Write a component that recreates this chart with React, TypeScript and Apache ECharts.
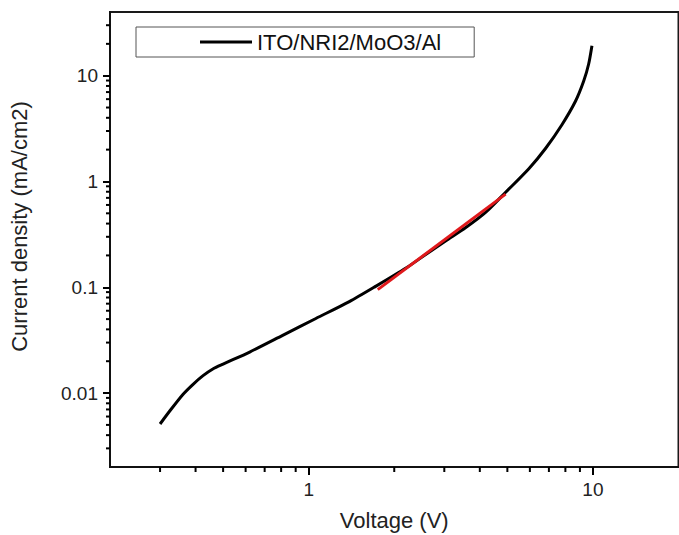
import React, { useEffect, useRef } from "react";
import * as echarts from "echarts";

const seriesName = "ITO/NRI2/MoO3/Al";
const voltage = [0.3, 0.325, 0.361, 0.392, 0.425, 0.46, 0.5, 0.62, 0.81, 1.06, 1.39, 1.72, 2.2, 2.58, 3.03, 3.57, 4.19, 4.93, 5.95, 6.81, 7.78, 8.68, 9.28, 9.66, 9.92];
const currentDensity = [0.0051, 0.0068, 0.0097, 0.0121, 0.0146, 0.0169, 0.0188, 0.0244, 0.0351, 0.0507, 0.0732, 0.102, 0.152, 0.204, 0.274, 0.367, 0.51, 0.79, 1.32, 2.05, 3.44, 5.73, 8.9, 12.9, 19.2];
const fitVoltage = [1.75, 4.93];
const fitCurrent = [0.095, 0.76];
const xRange = [0.2, 20];
const yRange = [0.002, 40];
const xMajorTicks = [1, 10];
const xMinorTicks = [0.3, 0.4, 0.5, 0.6, 0.7, 0.8, 0.9, 2, 3, 4, 5, 6, 7, 8, 9];
const yMajorTicks = [0.01, 0.1, 1, 10];
const yMinorTicks = [0.003, 0.004, 0.005, 0.006, 0.007, 0.008, 0.009, 0.02, 0.03, 0.04, 0.05, 0.06, 0.07, 0.08, 0.09, 0.2, 0.3, 0.4, 0.5, 0.6, 0.7, 0.8, 0.9, 2, 3, 4, 5, 6, 7, 8, 9, 20, 30];

const FONT = "'Liberation Sans', Arial, sans-serif";
const INK = "#000";

// custom series drawing minor tick marks through the axes' own scales
function minorTickSeries(values: number[], dir: "x" | "y", len: number, width: number) {
  return {
    type: "custom",
    coordinateSystem: "cartesian2d",
    clip: false,
    silent: true,
    z: 10,
    data: values.map((v) => (dir === "x" ? [v, yRange[0]] : [xRange[0], v])),
    renderItem: (_params: any, api: any) => {
      const p = api.coord([api.value(0), api.value(1)]);
      if (dir === "x") {
        return { type: "line", shape: { x1: p[0], y1: p[1], x2: p[0], y2: p[1] + len }, style: { stroke: INK, lineWidth: width } };
      }
      return { type: "line", shape: { x1: p[0], y1: p[1], x2: p[0] - len, y2: p[1] }, style: { stroke: INK, lineWidth: width } };
    },
  };
}

export default function App() {
  const ref = useRef<HTMLDivElement>(null);
  useEffect(() => {
    document.body.style.margin = "0";
    const chart = echarts.init(ref.current!, null, { renderer: "svg" });
    chart.setOption({
      animation: false,
      backgroundColor: "#ffffff",
      textStyle: { fontFamily: FONT },
      grid: {
        left: 110,
        top: 12,
        right: 0.5,
        bottom: 68,
        outerBoundsMode: "none",
        show: true,
        borderColor: "#1a1a1a",
        borderWidth: 2,
        backgroundColor: "transparent",
      },
      legend: {
        data: [seriesName],
        left: 136,
        top: 27,
        orient: "horizontal",
        padding: [4, 33, 4, 64],
        borderColor: "#555",
        borderWidth: 1,
        borderRadius: 0,
        icon: "rect",
        itemWidth: 52,
        itemHeight: 3,
        itemGap: 5,
        itemStyle: { color: "#000" },
        textStyle: { fontFamily: FONT, fontSize: 22, color: "#111", padding: [3, 0, 0, 0] },
      },
      xAxis: {
        type: "log",
        logBase: 10,
        position: "bottom",
        min: xRange[0],
        max: xRange[1],
        name: "Voltage (V)",
        nameLocation: "middle",
        nameGap: 42,
        nameMoveOverlap: false,
        nameTextStyle: { fontFamily: FONT, fontSize: 22, color: "#222" },
        splitLine: { show: false },
        minorTick: { show: false },
        axisLine: { show: true, lineStyle: { color: "#111", width: 2 } },
        axisTick: { show: true, length: 8, customValues: xMajorTicks, lineStyle: { color: INK, width: 2 } },
        axisLabel: { show: true, customValues: xMajorTicks, margin: 13, fontSize: 19, color: "#222" },
      },
      yAxis: {
        type: "log",
        logBase: 10,
        position: "left",
        min: yRange[0],
        max: yRange[1],
        name: "Current density (mA/cm2)",
        nameLocation: "middle",
        nameGap: 80,
        nameMoveOverlap: false,
        nameTextStyle: { fontFamily: FONT, fontSize: 22, color: "#222", padding: [0, 0, 0, 26] },
        splitLine: { show: false },
        minorTick: { show: false },
        axisLine: { show: true, lineStyle: { color: "#111", width: 2 } },
        axisTick: { show: true, length: 7, customValues: yMajorTicks, lineStyle: { color: INK, width: 2 } },
        axisLabel: { show: true, customValues: yMajorTicks, margin: 12, fontSize: 19, color: "#222" },
      },
      series: [
        {
          name: seriesName,
          type: "line",
          data: voltage.map((v, i) => [v, currentDensity[i]]),
          showSymbol: false,
          symbol: "none",
          smooth: 0.25,
          lineStyle: { color: "#000", width: 3 },
          itemStyle: { color: "#000" },
          z: 2,
        },
        {
          name: "fit",
          type: "line",
          data: fitVoltage.map((v, i) => [v, fitCurrent[i]]),
          showSymbol: false,
          symbol: "none",
          lineStyle: { color: "#e0191c", width: 3 },
          itemStyle: { color: "#e0191c" },
          z: 3,
        },
        minorTickSeries(xMinorTicks, "x", 5, 2),
        minorTickSeries(yMinorTicks, "y", 4, 2),
      ],
    });
    return () => chart.dispose();
  }, []);
  return <div ref={ref} style={{ width: 679, height: 535 }} />;
}
